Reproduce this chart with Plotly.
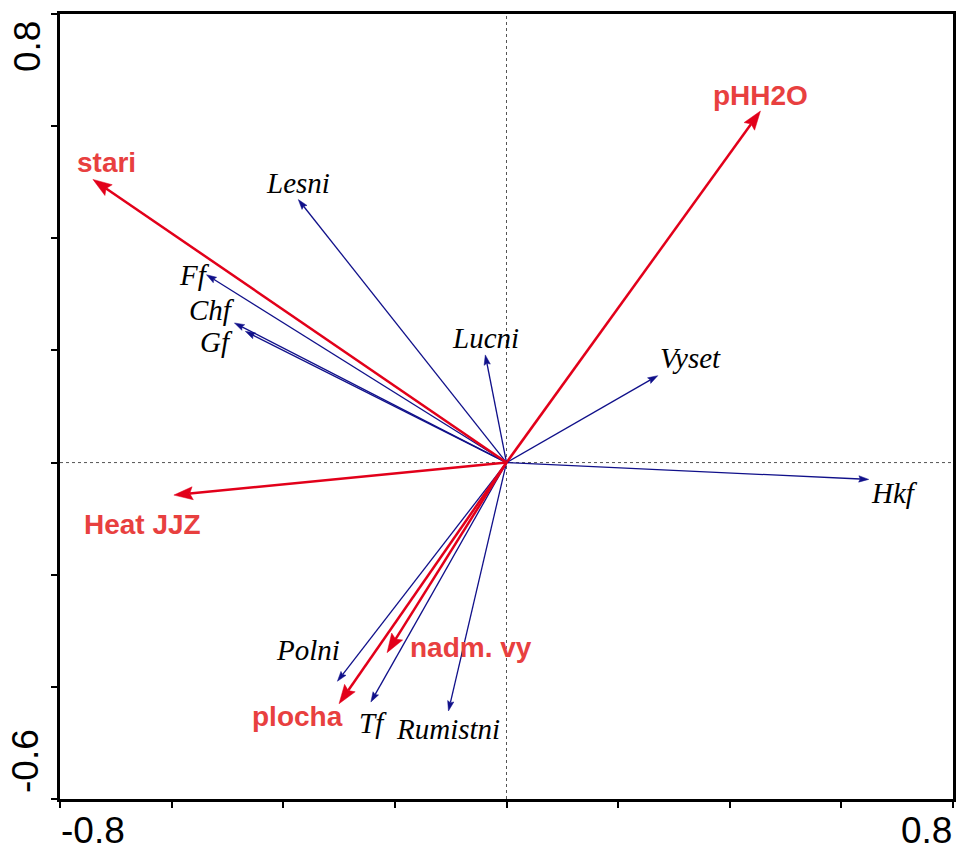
import math
import plotly.graph_objects as go

# Environmental variables (biplot arrow tips, axis 1 / axis 2 scores)
env_names = ["stari", "pHH2O", "Heat JJZ", "nadm. vy", "plocha"]
env_x = [-0.741, 0.455, -0.596, -0.214, -0.300]
env_y = [0.505, 0.627, -0.058, -0.339, -0.430]

# Species / response variables
spe_names = ["Lesni", "Ff", "Chf", "Gf", "Lucni", "Vyset", "Hkf", "Polni", "Tf", "Rumistni"]
spe_x = [-0.373, -0.5375, -0.4875, -0.468, -0.038, 0.271, 0.649, -0.303, -0.243, -0.104]
spe_y = [0.469, 0.335, 0.249, 0.234, 0.192, 0.155, -0.030, -0.390, -0.427, -0.443]

# Axis extents
X_RANGE = [-0.8, 0.8]
Y_RANGE = [-0.6, 0.8]

# Layout constants
W, H = 957, 846
M_L, M_R, M_T, M_B = 60, 1, 14, 47
PX_X = (W - M_L - M_R) / (X_RANGE[1] - X_RANGE[0])
PX_Y = (H - M_T - M_B) / (Y_RANGE[1] - Y_RANGE[0])

RED_LINE = "#e2001a"
RED_TEXT = "#e8403f"
BLUE = "#10108a"

# Label offsets in pixels from the arrow tip (dx right, dy down)
env_label_off = {
    "stari": (14, -17), "pHH2O": (0, -16), "Heat JJZ": (-31, 29),
    "nadm. vy": (84, -5), "plocha": (-42, 13),
}
spe_label_off = {
    "Lesni": (0, -17), "Ff": (-12, 0), "Chf": (-22, -13), "Gf": (-29, 11),
    "Lucni": (0, -17), "Vyset": (33, -18), "Hkf": (26, 14), "Polni": (-29, -31),
    "Tf": (2, 21), "Rumistni": (0, 18),
}


def arrow_parts(tx, ty, head_len, head_half, notch):
    """Return shaft end and head polygon (data units) for an arrow from origin."""
    px, py = tx * PX_X, ty * PX_Y
    length = math.hypot(px, py)
    ux, uy = px / length, py / length
    nx, ny = -uy, ux
    bx, by = px - head_len * ux, py - head_len * uy
    cx, cy = px - (head_len - notch) * ux, py - (head_len - notch) * uy
    pts = [(px, py), (bx + head_half * nx, by + head_half * ny), (cx, cy),
           (bx - head_half * nx, by - head_half * ny), (px, py)]
    poly_x = [p[0] / PX_X for p in pts]
    poly_y = [p[1] / PX_Y for p in pts]
    shaft_end = (cx / PX_X, cy / PX_Y)
    return shaft_end, poly_x, poly_y


fig = go.Figure()


def add_arrows(xs, ys, color, lw, head_len, head_half, notch):
    for tx, ty in zip(xs, ys):
        (sx, sy), hx, hy = arrow_parts(tx, ty, head_len, head_half, notch)
        fig.add_trace(go.Scatter(x=[0, sx], y=[0, sy], mode="lines",
                                 line=dict(color=color, width=lw),
                                 hoverinfo="skip", showlegend=False))
        fig.add_trace(go.Scatter(x=hx, y=hy, mode="lines", fill="toself",
                                 fillcolor=color, line=dict(color=color, width=0.5),
                                 hoverinfo="skip", showlegend=False))


add_arrows(spe_x, spe_y, BLUE, 1.3, 10, 3.2, 1.5)
add_arrows(env_x, env_y, RED_LINE, 2.5, 19, 6.5, 3)

annotations = []
for name, tx, ty in zip(spe_names, spe_x, spe_y):
    dx, dy = spe_label_off[name]
    annotations.append(dict(
        x=tx, y=ty, xref="x", yref="y", text=name, showarrow=False,
        xshift=dx, yshift=-dy, xanchor="center", yanchor="middle",
        font=dict(family="Liberation Serif, Times New Roman, serif", size=29,
                  color="black", style="italic")))
for name, tx, ty in zip(env_names, env_x, env_y):
    dx, dy = env_label_off[name]
    annotations.append(dict(
        x=tx, y=ty, xref="x", yref="y", text=name, showarrow=False,
        xshift=dx, yshift=-dy, xanchor="center", yanchor="middle",
        font=dict(family="Liberation Sans, Arial, sans-serif", size=28,
                  color=RED_TEXT, weight="bold")))

# End-of-axis numbers
num_font = dict(family="Liberation Sans, Arial, sans-serif", size=37, color="black")
annotations += [
    dict(x=X_RANGE[0], y=Y_RANGE[0], xref="x", yref="y", text="-0.8", showarrow=False,
         xanchor="center", yanchor="middle", xshift=33, yshift=-31, font=num_font),
    dict(x=X_RANGE[1], y=Y_RANGE[0], xref="x", yref="y", text="0.8", showarrow=False,
         xanchor="center", yanchor="middle", xshift=-27, yshift=-31, font=num_font),
    dict(x=X_RANGE[0], y=Y_RANGE[1], xref="x", yref="y", text="0.8", showarrow=False,
         xanchor="center", yanchor="middle", xshift=-33, yshift=-33,
         textangle=-90, font=num_font),
    dict(x=X_RANGE[0], y=Y_RANGE[0], xref="x", yref="y", text="-0.6", showarrow=False,
         xanchor="center", yanchor="middle", xshift=-35, yshift=38,
         textangle=-90, font=num_font),
]

# Dotted zero lines
shapes = [
    dict(type="line", xref="x", yref="y", x0=X_RANGE[0], x1=X_RANGE[1], y0=0, y1=0,
         line=dict(color="#555555", width=1, dash="dot"), layer="below"),
    dict(type="line", xref="x", yref="y", x0=0, x1=0, y0=Y_RANGE[0], y1=Y_RANGE[1],
         line=dict(color="#555555", width=1, dash="dot"), layer="below"),
]

axis_common = dict(showgrid=False, zeroline=False, showline=True, linecolor="black",
                   linewidth=2.5, mirror=True, ticks="outside", ticklen=6,
                   tickwidth=2, tickcolor="black", showticklabels=False, dtick=0.2)

fig.update_layout(
    width=W, height=H,
    margin=dict(l=M_L, r=M_R, t=M_T, b=M_B),
    paper_bgcolor="white", plot_bgcolor="white",
    xaxis=dict(range=X_RANGE, tick0=-0.8, **axis_common),
    yaxis=dict(range=Y_RANGE, tick0=-0.6, **axis_common),
    annotations=annotations, shapes=shapes, showlegend=False,
)

fig.write_html("out.html")
